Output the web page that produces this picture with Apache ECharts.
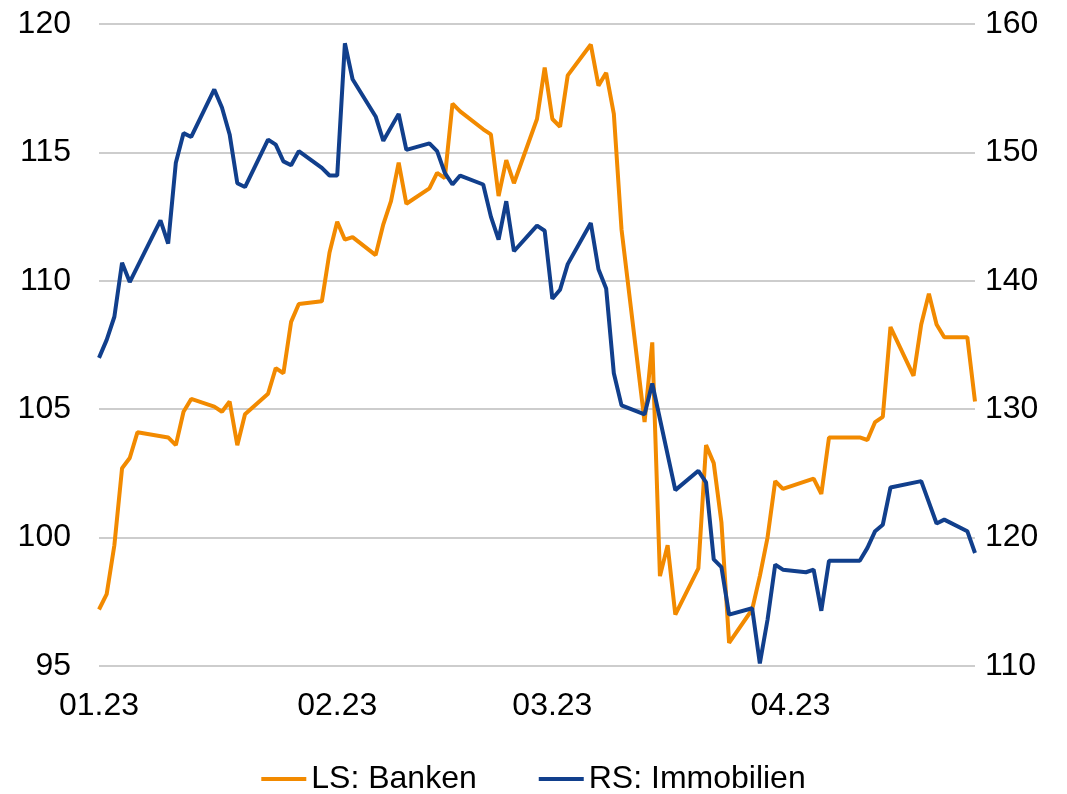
<!DOCTYPE html>
<html>
<head>
<meta charset="utf-8">
<script src="https://cdn.jsdelivr.net/npm/echarts@6/dist/echarts.min.js"></script>
<style>
  html, body { margin: 0; padding: 0; background: #fff; }
  #chart { width: 1067px; height: 794px; }
</style>
</head>
<body>
<div id="chart"></div>
<script>
// LS: Banken (left scale)
const bankDates = [
  '2023-01-01','2023-01-02','2023-01-03','2023-01-04','2023-01-05','2023-01-06',
  '2023-01-10','2023-01-11','2023-01-12','2023-01-13','2023-01-16','2023-01-17',
  '2023-01-18','2023-01-19','2023-01-20','2023-01-23','2023-01-24','2023-01-25',
  '2023-01-26','2023-01-27','2023-01-30','2023-01-31','2023-02-01','2023-02-02',
  '2023-02-03','2023-02-06','2023-02-07','2023-02-08','2023-02-09','2023-02-10',
  '2023-02-13','2023-02-14','2023-02-15','2023-02-16','2023-02-17','2023-02-20',
  '2023-02-21','2023-02-22','2023-02-23','2023-02-24','2023-02-27','2023-02-28',
  '2023-03-01','2023-03-02','2023-03-03','2023-03-06','2023-03-07','2023-03-08',
  '2023-03-09','2023-03-10','2023-03-13','2023-03-14','2023-03-15','2023-03-16',
  '2023-03-17','2023-03-20','2023-03-21','2023-03-22','2023-03-23','2023-03-24',
  '2023-03-27','2023-03-28','2023-03-29','2023-03-30','2023-03-31','2023-04-04',
  '2023-04-05','2023-04-06','2023-04-10','2023-04-11','2023-04-12','2023-04-13',
  '2023-04-14','2023-04-17','2023-04-18','2023-04-19','2023-04-20','2023-04-21',
  '2023-04-24','2023-04-25'
];
const bankValues = [
  97.2, 97.8, 99.7, 102.7, 103.1, 104.1,
  103.9, 103.6, 104.9, 105.4, 105.1, 104.9,
  105.3, 103.6, 104.8, 105.6, 106.6, 106.4,
  108.4, 109.1, 109.2, 111.1, 112.3, 111.6,
  111.7, 111.0, 112.2, 113.1, 114.6, 113.0,
  113.6, 114.2, 114.0, 116.9, 116.6, 115.9,
  115.7, 113.3, 114.7, 113.8, 116.3, 118.3,
  116.3, 116.0, 118.0, 119.2, 117.6, 118.1,
  116.5, 112.0, 104.5, 107.6, 98.5, 99.7,
  97.0, 98.8, 103.6, 102.9, 100.6, 95.9,
  97.2, 98.5, 100.0, 102.2, 101.9, 102.3,
  101.7, 103.9, 103.9, 103.8, 104.5, 104.7,
  108.2, 106.3, 108.3, 109.5, 108.3, 107.8,
  107.8, 105.3
];

// RS: Immobilien (right scale)
const immoDates = [
  '2023-01-01','2023-01-02','2023-01-03','2023-01-04','2023-01-05','2023-01-09',
  '2023-01-10','2023-01-11','2023-01-12','2023-01-13','2023-01-16','2023-01-17',
  '2023-01-18','2023-01-19','2023-01-20','2023-01-23','2023-01-24','2023-01-25',
  '2023-01-26','2023-01-27','2023-01-30','2023-01-31','2023-02-01','2023-02-02',
  '2023-02-03','2023-02-06','2023-02-07','2023-02-09','2023-02-10','2023-02-13',
  '2023-02-14','2023-02-15','2023-02-16','2023-02-17','2023-02-20','2023-02-21',
  '2023-02-22','2023-02-23','2023-02-24','2023-02-27','2023-02-28','2023-03-01',
  '2023-03-02','2023-03-03','2023-03-06','2023-03-07','2023-03-08','2023-03-09',
  '2023-03-10','2023-03-13','2023-03-14','2023-03-17','2023-03-20','2023-03-21',
  '2023-03-22','2023-03-23','2023-03-24','2023-03-27','2023-03-28','2023-03-29',
  '2023-03-30','2023-03-31','2023-04-03','2023-04-04','2023-04-05','2023-04-06',
  '2023-04-10','2023-04-11','2023-04-12','2023-04-13','2023-04-14','2023-04-18',
  '2023-04-20','2023-04-21','2023-04-24','2023-04-25'
];
const immoValues = [
  134.0, 135.4, 137.2, 141.4, 139.9, 144.7,
  142.9, 149.2, 151.5, 151.2, 154.9, 153.5,
  151.4, 147.6, 147.3, 151.0, 150.6, 149.3,
  149.0, 150.1, 148.8, 148.2, 148.2, 158.5,
  155.7, 152.8, 150.9, 153.0, 150.2, 150.7,
  150.1, 148.4, 147.5, 148.2, 147.5, 145.0,
  143.2, 146.2, 142.3, 144.3, 143.9, 138.6,
  139.3, 141.3, 144.5, 140.9, 139.4, 132.8,
  130.3, 129.6, 132.0, 123.7, 125.2, 124.3,
  118.3, 117.7, 114.0, 114.5, 110.2, 113.6,
  117.9, 117.5, 117.3, 117.5, 114.3, 118.2,
  118.2, 119.2, 120.5, 121.0, 123.9, 124.4,
  121.1, 121.4, 120.5, 118.8
];

const xLabelDates = ['2023-01-01', '2023-02-01', '2023-03-01', '2023-04-01'];

function ts(s) {
  const p = s.split('-').map(Number);
  return Date.UTC(p[0], p[1] - 1, p[2]);
}

const orange = '#F28A00';
const blue = '#113F8C';
const font = 'Liberation Sans, Arial, sans-serif';

const chart = echarts.init(document.getElementById('chart'));
chart.setOption({
  animation: false,
  textStyle: { fontFamily: font },
  grid: { left: 99, right: 92, top: 24, bottom: 128 },
  legend: {
    top: 758,
    left: 'center',
    icon: 'rect',
    itemWidth: 45,
    itemHeight: 4,
    itemGap: 62,
    textStyle: { fontSize: 32, color: '#000', fontFamily: font },
    data: ['LS: Banken', 'RS: Immobilien']
  },
  xAxis: {
    type: 'value',
    min: ts('2023-01-01'),
    max: ts('2023-04-25'),
    axisLine: { show: false },
    axisTick: { show: false },
    splitLine: { show: false },
    axisLabel: {
      customValues: xLabelDates.map(ts),
      margin: 24,
      fontSize: 32,
      color: '#000',
      formatter: function (v) {
        const d = new Date(v);
        const m = String(d.getUTCMonth() + 1).padStart(2, '0');
        const y = String(d.getUTCFullYear()).slice(2);
        return m + '.' + y;
      }
    }
  },
  yAxis: [
    {
      type: 'value',
      min: 95,
      max: 120,
      interval: 5,
      axisLine: { show: false },
      axisTick: { show: false },
      axisLabel: { fontSize: 32, color: '#000', margin: 28 },
      splitLine: { lineStyle: { color: '#BDBDBD', width: 1.5 } }
    },
    {
      type: 'value',
      min: 110,
      max: 160,
      interval: 10,
      position: 'right',
      axisLine: { show: false },
      axisTick: { show: false },
      axisLabel: { fontSize: 32, color: '#000', margin: 10 },
      splitLine: { show: false }
    }
  ],
  series: [
    {
      name: 'LS: Banken',
      type: 'line',
      yAxisIndex: 0,
      showSymbol: false,
      lineStyle: { color: orange, width: 4 },
      itemStyle: { color: orange },
      data: bankDates.map((d, i) => [ts(d), bankValues[i]])
    },
    {
      name: 'RS: Immobilien',
      type: 'line',
      yAxisIndex: 1,
      showSymbol: false,
      lineStyle: { color: blue, width: 4 },
      itemStyle: { color: blue },
      data: immoDates.map((d, i) => [ts(d), immoValues[i]])
    }
  ]
});
</script>
</body>
</html>
